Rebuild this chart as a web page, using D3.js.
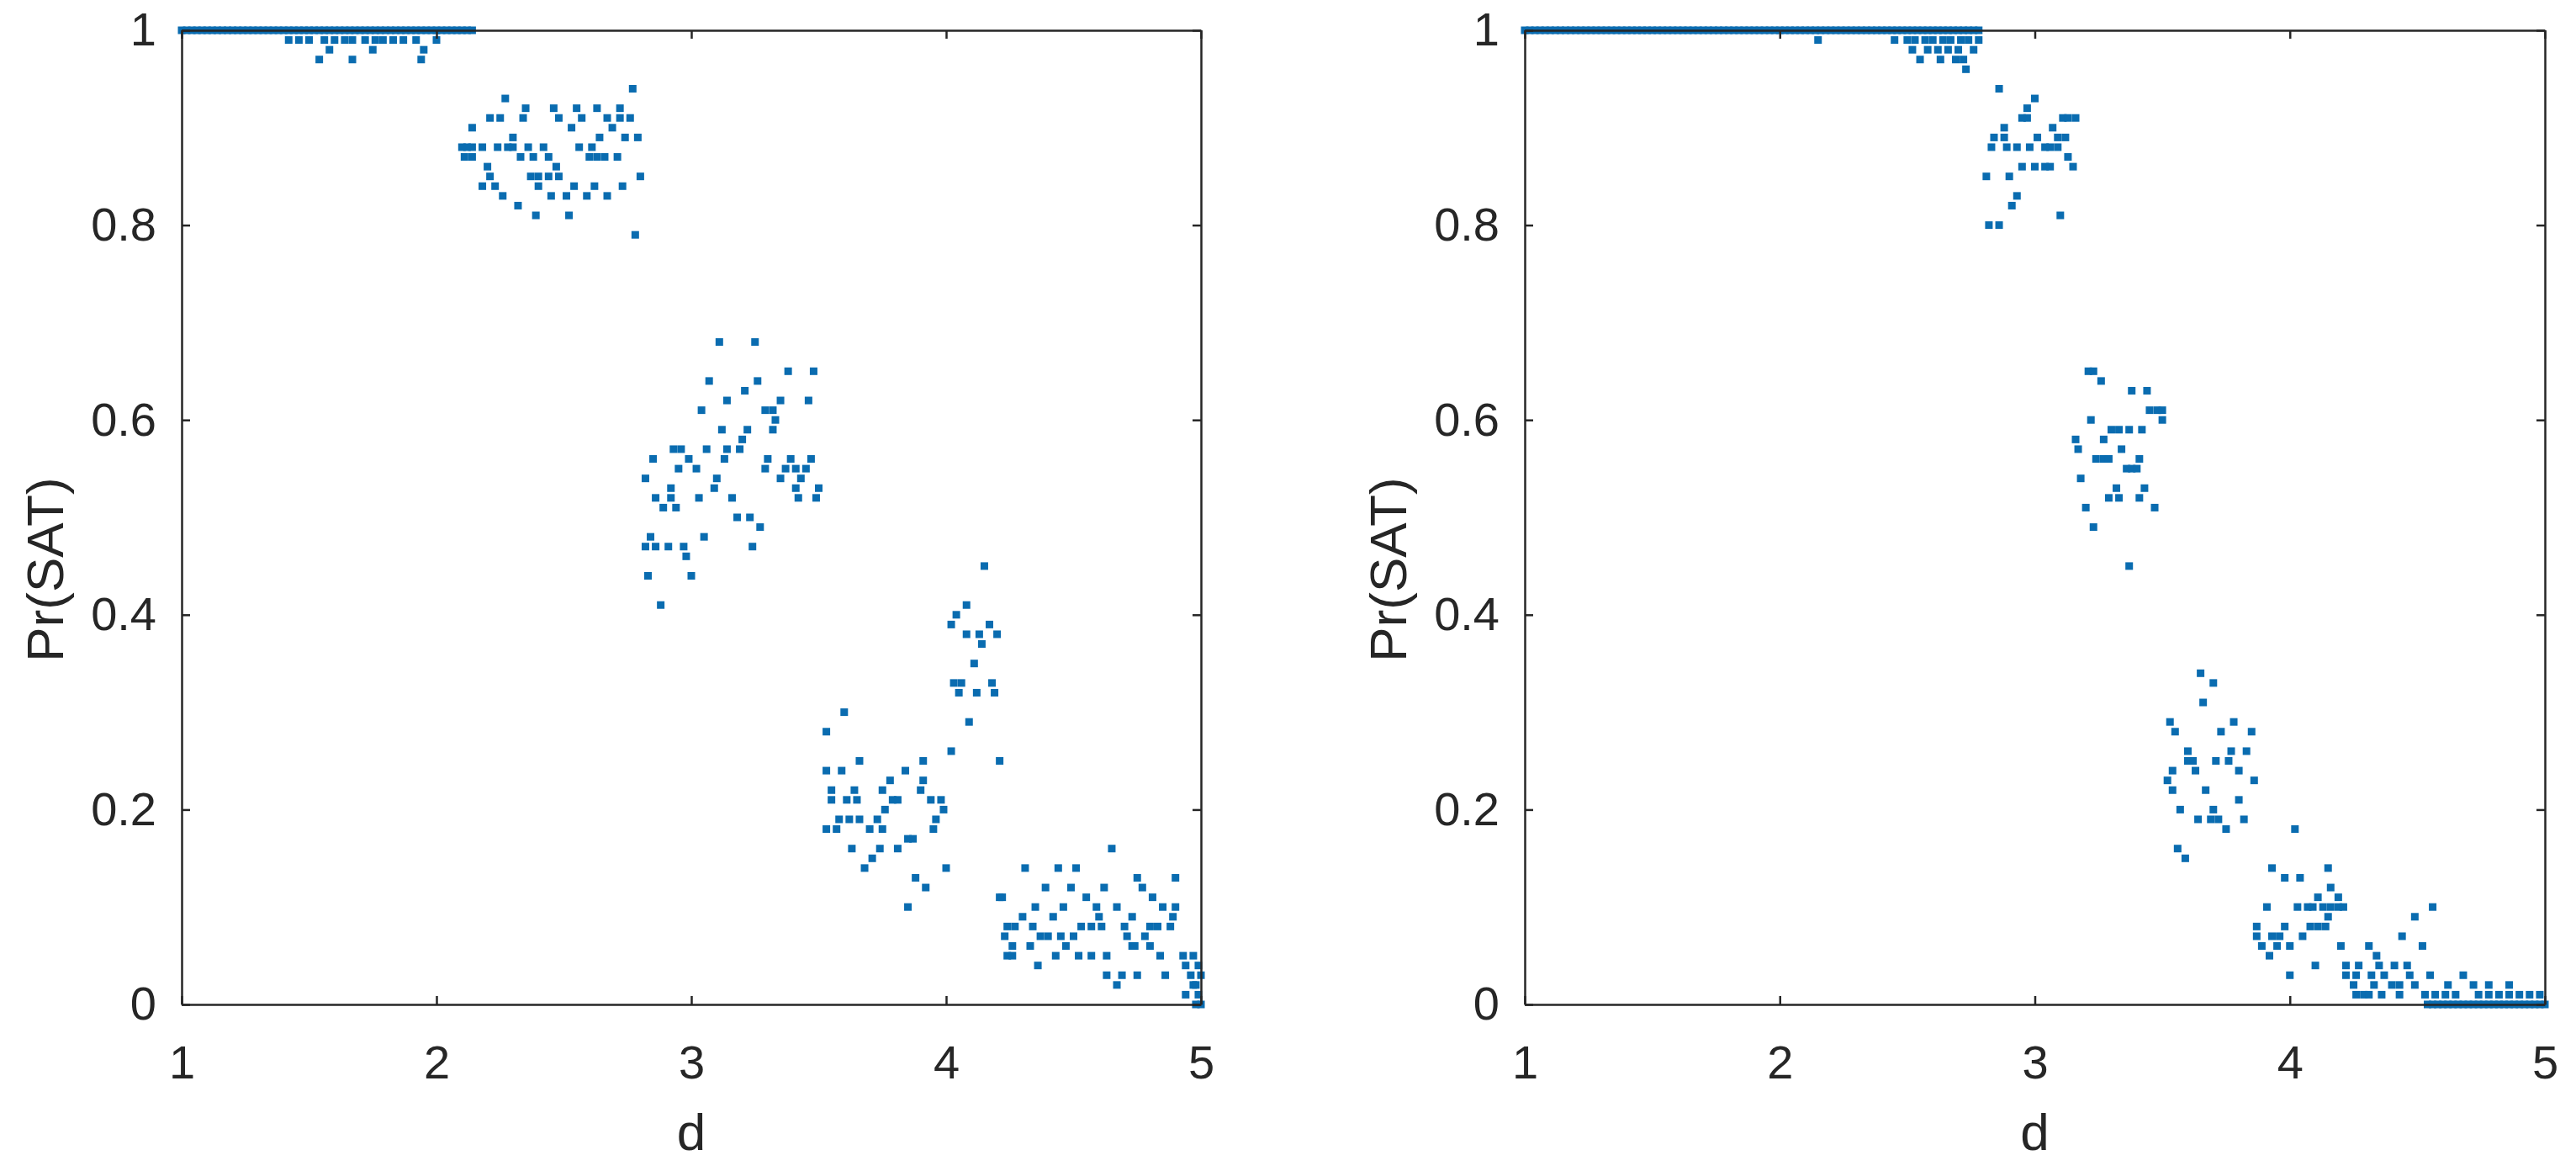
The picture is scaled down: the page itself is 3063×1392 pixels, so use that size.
<!DOCTYPE html>
<html><head><meta charset="utf-8">
<script src="https://cdn.jsdelivr.net/npm/d3@7"></script>
<style>body{margin:0;background:#fff}svg{display:block}</style>
</head><body>
<svg id="c" width="3063" height="1392"></svg>
<script>
const xTicks = [1, 2, 3, 4, 5];
const yTicks = [0, 0.2, 0.4, 0.6, 0.8, 1];
const yTickLabels = ["0", "0.2", "0.4", "0.6", "0.8", "1"];
const xLabel = "d";
const yLabel = "Pr(SAT)";

// rows: [Pr(SAT), [d values having that Pr(SAT)]]
const leftRows = [
  [1.00, [1,1.02,1.04,1.06,1.08,1.1,1.12,1.14,1.16,1.18,1.2,1.22,1.24,1.26,1.28,1.3,1.32,1.34,1.36,1.38,1.4,1.42,1.44,1.46,1.48,1.5,1.52,1.54,1.56,1.58,1.6,1.62,1.64,1.66,1.68,1.7,1.72,1.74,1.76,1.78,1.8,1.82,1.84,1.86,1.88,1.9,1.92,1.94,1.96,1.98,2,2.02,2.04,2.06,2.08,2.1,2.12,2.14]],
  [0.99, [1.42,1.46,1.5,1.56,1.6,1.64,1.67,1.72,1.76,1.79,1.83,1.87,1.92,2.0]],
  [0.98, [1.58,1.75,1.95]],
  [0.97, [1.54,1.67,1.94]],
  [0.94, [2.77]],
  [0.93, [2.27]],
  [0.92, [2.35,2.46,2.55,2.63,2.72]],
  [0.91, [2.21,2.25,2.34,2.48,2.57,2.67,2.72,2.76]],
  [0.90, [2.14,2.53,2.69]],
  [0.89, [2.30,2.64,2.74,2.79]],
  [0.88, [2.10,2.12,2.14,2.18,2.24,2.28,2.30,2.36,2.42,2.56,2.61]],
  [0.87, [2.11,2.14,2.33,2.38,2.44,2.60,2.63,2.66,2.71]],
  [0.86, [2.20,2.47]],
  [0.85, [2.21,2.37,2.40,2.44,2.48,2.80]],
  [0.84, [2.18,2.23,2.40,2.54,2.62,2.73]],
  [0.83, [2.26,2.45,2.51,2.59,2.67]],
  [0.82, [2.32]],
  [0.81, [2.39,2.52]],
  [0.79, [2.78]],
  [0.68, [3.11,3.25]],
  [0.65, [3.38,3.48]],
  [0.64, [3.07,3.26]],
  [0.63, [3.21]],
  [0.62, [3.14,3.35,3.46]],
  [0.61, [3.04,3.29,3.32]],
  [0.60, [3.33]],
  [0.59, [3.12,3.22,3.32]],
  [0.58, [3.20]],
  [0.57, [2.93,2.96,3.06,3.14,3.19]],
  [0.56, [2.85,2.99,3.13,3.30,3.39,3.47]],
  [0.55, [2.95,3.02,3.29,3.37,3.41,3.45]],
  [0.54, [2.82,3.10,3.35,3.43]],
  [0.53, [2.92,3.09,3.41,3.50]],
  [0.52, [2.86,2.92,3.03,3.16,3.42,3.49]],
  [0.51, [2.89,2.94]],
  [0.50, [3.18,3.23]],
  [0.49, [3.27]],
  [0.48, [2.84,3.05]],
  [0.47, [2.82,2.86,2.91,2.97,3.24]],
  [0.46, [2.98]],
  [0.45, [4.15]],
  [0.44, [2.83,3.00]],
  [0.41, [2.88,4.08]],
  [0.40, [4.04]],
  [0.39, [4.02,4.17]],
  [0.38, [4.08,4.13,4.20]],
  [0.37, [4.14]],
  [0.35, [4.11]],
  [0.33, [4.03,4.06,4.18]],
  [0.32, [4.05,4.12,4.19]],
  [0.30, [3.60]],
  [0.29, [4.09]],
  [0.28, [3.53]],
  [0.26, [4.02]],
  [0.25, [3.66,3.91,4.21]],
  [0.24, [3.53,3.59,3.84]],
  [0.23, [3.78,3.91]],
  [0.22, [3.55,3.64,3.75,3.90]],
  [0.21, [3.55,3.61,3.65,3.79,3.81,3.94,3.98]],
  [0.20, [3.76,3.99]],
  [0.19, [3.58,3.62,3.66,3.73,3.96]],
  [0.18, [3.53,3.57,3.70,3.75,3.95]],
  [0.17, [3.85,3.87]],
  [0.16, [3.63,3.74,3.81,4.65]],
  [0.15, [3.71]],
  [0.14, [3.68,4.00,4.31,4.44,4.51]],
  [0.13, [3.88,4.75,4.90]],
  [0.12, [3.92,4.39,4.49,4.62,4.77]],
  [0.11, [4.21,4.22,4.55,4.81]],
  [0.10, [3.85,4.35,4.46,4.59,4.67,4.85,4.90]],
  [0.09, [4.30,4.42,4.60,4.73,4.89]],
  [0.08, [4.24,4.27,4.34,4.53,4.57,4.61,4.70,4.80,4.83,4.88]],
  [0.07, [4.23,4.37,4.40,4.45,4.50,4.71,4.78]],
  [0.06, [4.26,4.33,4.47,4.73,4.74,4.80]],
  [0.05, [4.24,4.26,4.43,4.52,4.57,4.63,4.84,4.93,4.97]],
  [0.04, [4.36,4.94,4.99]],
  [0.03, [4.63,4.69,4.75,4.86,4.96,5.00]],
  [0.02, [4.67,4.97,4.98]],
  [0.01, [4.94,4.99]],
  [0.00, [4.98,5.00]]
];

const rightRows = [
  [1.00, [1,1.02,1.04,1.06,1.08,1.1,1.12,1.14,1.16,1.18,1.2,1.22,1.24,1.26,1.28,1.3,1.32,1.34,1.36,1.38,1.4,1.42,1.44,1.46,1.48,1.5,1.52,1.54,1.56,1.58,1.6,1.62,1.64,1.66,1.68,1.7,1.72,1.74,1.76,1.78,1.8,1.82,1.84,1.86,1.88,1.9,1.92,1.94,1.96,1.98,2,2.02,2.04,2.06,2.08,2.1,2.12,2.14,2.16,2.18,2.2,2.22,2.24,2.26,2.28,2.3,2.32,2.34,2.36,2.38,2.4,2.42,2.44,2.46,2.48,2.5,2.52,2.54,2.56,2.58,2.6,2.62,2.64,2.66,2.68,2.7,2.72,2.74,2.76,2.78]],
  [0.99, [2.15,2.45,2.50,2.53,2.57,2.60,2.64,2.67,2.71,2.74,2.78]],
  [0.98, [2.52,2.58,2.62,2.66,2.70,2.76]],
  [0.97, [2.55,2.63,2.69,2.72]],
  [0.96, [2.73]],
  [0.94, [2.86]],
  [0.93, [3.00]],
  [0.92, [2.97]],
  [0.91, [2.95,2.97,3.11,3.13,3.16]],
  [0.90, [2.88,3.07]],
  [0.89, [2.84,2.88,3.01,3.09,3.12]],
  [0.88, [2.83,2.89,2.93,2.98,3.04,3.06,3.09]],
  [0.87, [3.13]],
  [0.86, [2.95,3.00,3.04,3.06,3.15]],
  [0.85, [2.81,2.90]],
  [0.83, [2.93]],
  [0.82, [2.91]],
  [0.81, [3.10]],
  [0.80, [2.82,2.86]],
  [0.65, [3.21,3.23]],
  [0.64, [3.26]],
  [0.63, [3.38,3.44]],
  [0.61, [3.45,3.48,3.50]],
  [0.60, [3.22,3.50]],
  [0.59, [3.30,3.33,3.37,3.42]],
  [0.58, [3.16,3.27]],
  [0.57, [3.17,3.34]],
  [0.56, [3.24,3.27,3.29,3.41]],
  [0.55, [3.36,3.38,3.40]],
  [0.54, [3.18]],
  [0.53, [3.32,3.43]],
  [0.52, [3.29,3.33,3.41]],
  [0.51, [3.20,3.47]],
  [0.49, [3.23]],
  [0.45, [3.37]],
  [0.34, [3.65]],
  [0.33, [3.70]],
  [0.31, [3.66]],
  [0.29, [3.53,3.78]],
  [0.28, [3.55,3.73,3.85]],
  [0.26, [3.60,3.77,3.83]],
  [0.25, [3.60,3.62,3.71,3.76]],
  [0.24, [3.54,3.63,3.80]],
  [0.23, [3.52,3.86]],
  [0.22, [3.54,3.67]],
  [0.21, [3.80]],
  [0.20, [3.57,3.70]],
  [0.19, [3.64,3.69,3.72,3.82]],
  [0.18, [3.75,4.02]],
  [0.16, [3.56]],
  [0.15, [3.59]],
  [0.14, [3.93,4.15]],
  [0.13, [3.98,4.04]],
  [0.12, [4.16]],
  [0.11, [4.11,4.19]],
  [0.10, [3.91,4.03,4.07,4.09,4.13,4.16,4.19,4.21,4.56]],
  [0.09, [4.15,4.49]],
  [0.08, [3.87,3.98,4.08,4.11,4.14]],
  [0.07, [3.87,3.93,3.96,4.05,4.44]],
  [0.06, [3.89,3.95,4.00,4.20,4.31,4.52]],
  [0.05, [3.92,4.34]],
  [0.04, [4.10,4.22,4.27,4.35,4.41,4.46]],
  [0.03, [4.00,4.22,4.26,4.32,4.37,4.47,4.55,4.68]],
  [0.02, [4.25,4.33,4.40,4.43,4.49,4.62,4.72,4.78,4.86]],
  [0.01, [4.26,4.29,4.31,4.36,4.43,4.53,4.57,4.61,4.65,4.74,4.78,4.82,4.86,4.90,4.94,4.98]],
  [0.00, [4.54,4.56,4.58,4.6,4.62,4.64,4.66,4.68,4.7,4.72,4.74,4.76,4.78,4.8,4.82,4.84,4.86,4.88,4.9,4.92,4.94,4.96,4.98,5]]
];

const svg = d3.select("#c");
svg.append("rect").attr("width", 3063).attr("height", 1392).attr("fill", "#fff");

const TOP = 36, BOTTOM = 1194;
const AX = "#262626";
const FONT = "'Liberation Sans', Arial, Helvetica, sans-serif";
const panels = [
  { rows: leftRows, x0: 216, x1: 1428 },
  { rows: rightRows, x0: 1813, x1: 3026 }
];

panels.forEach(p => {
  const x = d3.scaleLinear().domain([1, 5]).range([p.x0, p.x1]);
  const y = d3.scaleLinear().domain([0, 1]).range([BOTTOM, TOP]);
  const g = svg.append("g");

  const pts = [];
  p.rows.forEach(([v, ds]) => ds.forEach(d => pts.push([d, v])));
  const M = 9;
  g.append("g").selectAll("rect").data(pts).join("rect")
    .attr("x", d => x(d[0]) - M / 2)
    .attr("y", d => y(d[1]) - M / 2)
    .attr("width", M).attr("height", M)
    .attr("fill", "#0a6cb0");

  const style = sel => {
    sel.selectAll("path,line").attr("stroke", AX).attr("stroke-width", 2.5);
    sel.selectAll("text").attr("fill", AX).attr("font-family", FONT).attr("font-size", 56);
  };

  g.append("g").attr("transform", `translate(0,${BOTTOM})`)
    .call(d3.axisBottom(x).tickValues(xTicks).tickFormat(d3.format("d")).tickSize(-10).tickSizeOuter(0).tickPadding(48))
    .call(style);
  g.append("g").attr("transform", `translate(0,${TOP})`)
    .call(d3.axisTop(x).tickValues(xTicks).tickFormat("").tickSize(-10).tickSizeOuter(0))
    .call(style);
  g.append("g").attr("transform", `translate(${p.x0},0)`)
    .call(d3.axisLeft(y).tickValues(yTicks).tickFormat((d, i) => yTickLabels[i]).tickSize(-10).tickSizeOuter(0).tickPadding(30))
    .call(style);
  g.append("g").attr("transform", `translate(${p.x1},0)`)
    .call(d3.axisRight(y).tickValues(yTicks).tickFormat("").tickSize(-10).tickSizeOuter(0))
    .call(style);

  g.append("text")
    .attr("x", (p.x0 + p.x1) / 2).attr("y", 1367)
    .attr("text-anchor", "middle")
    .attr("font-family", FONT).attr("font-size", 62).attr("fill", AX)
    .text(xLabel);
  g.append("text")
    .attr("transform", `translate(${p.x0 - 141},${(TOP + BOTTOM) / 2 + 62}) rotate(-90)`)
    .attr("text-anchor", "middle")
    .attr("font-family", FONT).attr("font-size", 62).attr("fill", AX)
    .text(yLabel);
});
</script>
</body></html>
